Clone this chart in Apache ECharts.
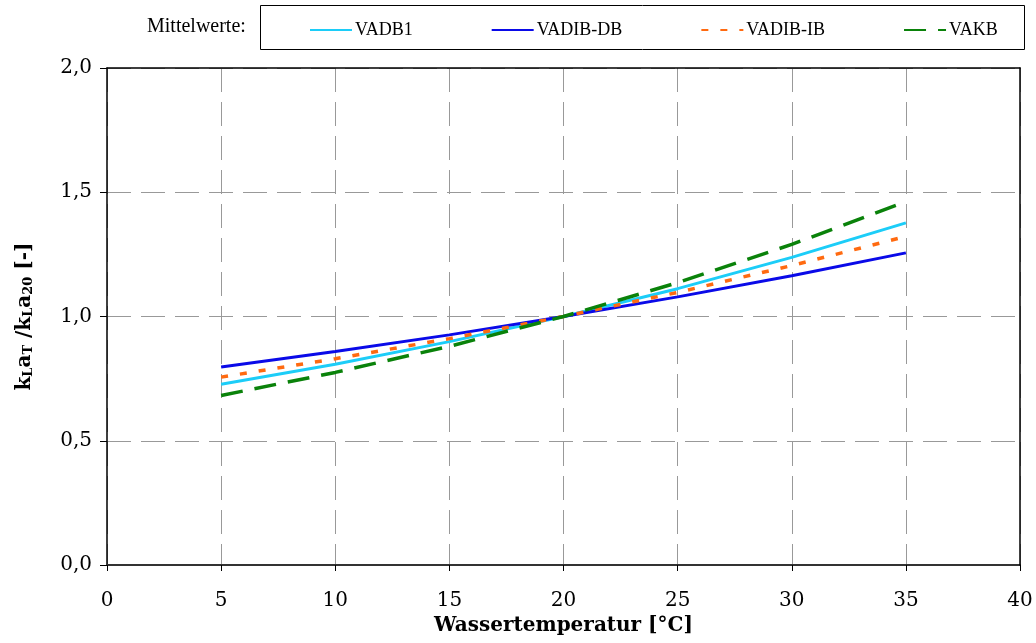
<!DOCTYPE html>
<html>
<head>
<meta charset="utf-8">
<script src="https://cdn.jsdelivr.net/npm/echarts@6/dist/echarts.min.js"></script>
<style>
  html, body { margin: 0; padding: 0; background: #fff; }
  #chart { width: 1036px; height: 643px; }
</style>
</head>
<body>
<div id="chart"></div>
<script>
  // Wassertemperatur [°C]
  const temps = [5, 10, 15, 20, 25, 30, 35];
  // kLaT / kLa20
  const vadb1 = [0.727, 0.808, 0.899, 1.0, 1.112, 1.238, 1.377];
  const vadibDb = [0.797, 0.859, 0.926, 1.0, 1.079, 1.164, 1.256];
  const vadibIb = [0.756, 0.830, 0.911, 1.0, 1.097, 1.205, 1.322];
  const vakb = [0.682, 0.775, 0.880, 1.0, 1.136, 1.290, 1.462];
  const seriesNames = ['VADB1', 'VADIB-DB', 'VADIB-IB', 'VAKB'];

  const pairs = arr => temps.map((t, i) => [t, arr[i]]);
  const serif = 'DejaVu Serif';
  const gridLine = { show: true, lineStyle: { color: '#999', type: [24, 10], width: 1 } };

  let chart = echarts.init(document.getElementById('chart'));
  chart.setOption({
    animation: false,
    graphic: [
      {
        type: 'text', left: 147, top: 17,
        style: { text: 'Mittelwerte:', font: '20px "Liberation Serif"', fill: '#000' }
      },
      {
        type: 'rect', left: 258, top: 3,
        shape: { width: 764, height: 44 },
        style: { fill: 'none', stroke: '#000', lineWidth: 1 }
      }
    ],
    legend: {
      left: 304, top: 16,
      itemWidth: 42, itemHeight: 10, itemGap: 78,
      itemStyle: { opacity: 0 },
      textStyle: { fontFamily: 'Liberation Serif', fontSize: 18, color: '#000', padding: [0, 0, 0, -2] },
      data: seriesNames
    },
    grid: {
      left: 107, right: 16, top: 68, bottom: 78
    },
    xAxis: [
      {
        type: 'value', min: 0, max: 40, interval: 5,
        name: 'Wassertemperatur [°C]', nameLocation: 'middle', nameGap: 50,
        nameTextStyle: { fontFamily: serif, fontWeight: 'bold', fontSize: 20, color: '#000' },
        axisLine: { lineStyle: { color: '#333', width: 2 } },
        axisTick: { inside: false, length: 6, lineStyle: { color: '#000' } },
        axisLabel: { margin: 26, fontFamily: serif, fontSize: 20, color: '#000' },
        splitLine: gridLine
      },
      {
        type: 'value', min: 0, max: 40, interval: 5, position: 'top', z: 5,
        axisLine: { show: true, onZero: false, lineStyle: { color: '#000', width: 1.5 } },
        axisTick: { show: false }, axisLabel: { show: false }, splitLine: { show: false }
      }
    ],
    yAxis: [
      {
        type: 'value', min: 0, max: 2, interval: 0.5,
        name: '{b|k}{s|L}{b|a}{s|T}{b| /k}{s|L}{b|a}{s|20}{b| [-]}',
        nameLocation: 'middle', nameGap: 72,
        nameTextStyle: {
          rich: {
            b: { fontFamily: serif, fontWeight: 'bold', fontSize: 20, color: '#000' },
            s: { fontFamily: serif, fontWeight: 'bold', fontSize: 13, color: '#000', verticalAlign: 'bottom', padding: [8, 0, 0, 0] }
          }
        },
        axisLine: { show: true, lineStyle: { color: '#000', width: 1.5 } },
        axisTick: { show: true, inside: false, length: 7, lineStyle: { color: '#000' } },
        axisLabel: {
          margin: 15, fontFamily: serif, fontSize: 20, color: '#000',
          formatter: v => v.toFixed(1).replace('.', ',')
        },
        splitLine: gridLine
      },
      {
        type: 'value', min: 0, max: 2, interval: 0.5, position: 'right', z: 5,
        axisLine: { show: true, onZero: false, lineStyle: { color: '#000', width: 1.5 } },
        axisTick: { show: false }, axisLabel: { show: false }, splitLine: { show: false }
      }
    ],
    series: [
      {
        name: 'VADB1', type: 'line', data: pairs(vadb1), symbol: 'none',
        lineStyle: { color: '#1ccdf8', width: 3 }, itemStyle: { color: '#1ccdf8' }
      },
      {
        name: 'VADIB-DB', type: 'line', data: pairs(vadibDb), symbol: 'none',
        lineStyle: { color: '#0a0ae8', width: 3 }, itemStyle: { color: '#0a0ae8' }
      },
      {
        name: 'VADIB-IB', type: 'line', data: pairs(vadibIb), symbol: 'none',
        lineStyle: { color: '#ff6a10', width: 3.5, type: [7, 12] }, itemStyle: { color: '#ff6a10' }
      },
      {
        name: 'VAKB', type: 'line', data: pairs(vakb), symbol: 'none',
        lineStyle: { color: '#0a820a', width: 3.5, type: [22, 12] }, itemStyle: { color: '#0a820a' }
      }
    ]
  });
</script>
</body>
</html>
